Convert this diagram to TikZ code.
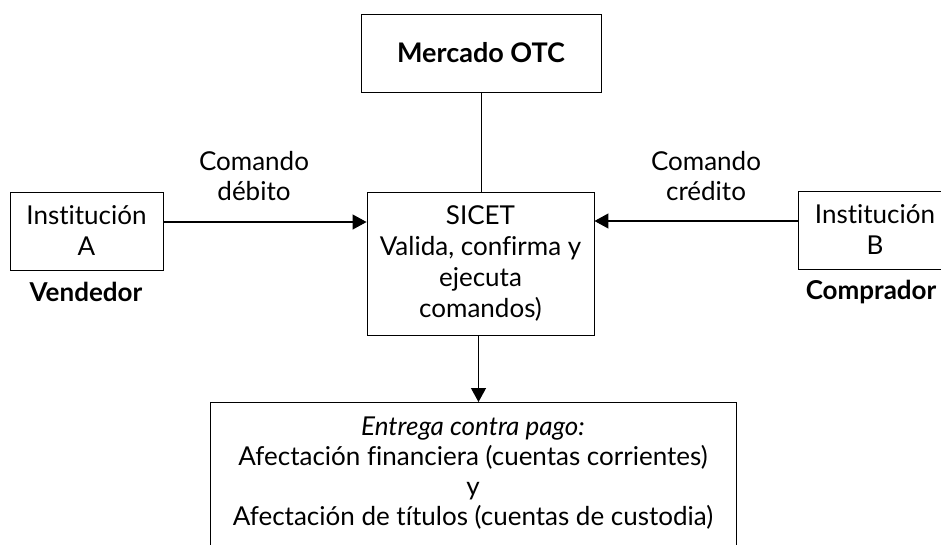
\documentclass[tikz,border=0pt]{standalone}
\usepackage{fontspec}
\setmainfont{Lato}[Ligatures=NoCommon]
\usetikzlibrary{arrows.meta}

\begin{document}
\begin{tikzpicture}[x=1pt, y=-1pt,
    caja/.style={draw, line width=0.9pt, inner sep=0pt, align=center,
      font=\fontsize{26}{31}\selectfont},
    texto/.style={align=center, inner sep=0pt, font=\fontsize{26}{30}\selectfont},
    rol/.style={inner sep=0pt, font=\fontsize{26}{31}\selectfont\bfseries},
    flecha/.style={line width=1.2pt, -{Triangle[length=14pt, width=15pt]}}]
  \useasboundingbox (0,0) rectangle (941,544);

  % Cajas
  \node[caja, minimum width=240, minimum height=78, font=\fontsize{27}{31}\selectfont\bfseries]
    (otc) at (481,53) {Mercado OTC};
  \node[caja, minimum width=227, minimum height=143]
    (sicet) at (480.5,263.5) {SICET\\Valida, confirma y\\ejecuta\\comandos)};
  \node[caja, minimum width=153, minimum height=78]
    (instA) at (86.5,231) {Institución\\A};
  \node[caja, minimum width=153, minimum height=78]
    (instB) at (875,230) {Institución\\B};
  \node[caja, anchor=north, minimum width=526, minimum height=170]
    (pago) at (473,402) {};

  % Textos
  \node[texto] (pagotxt) at (473,473) {\textit{Entrega contra pago:}\\
    Afectación financiera (cuentas corrientes)\\y\\
    Afectación de títulos (cuentas de custodia)};
  \node[texto] (debito) at (254,176) {Comando\\débito};
  \node[texto] (credito) at (706,176) {Comando\\crédito};
  \node[rol] (vendedor) at (86,292) {Vendedor};
  \node[rol] (comprador) at (871,292) {Comprador};

  % Conectores
  \draw[line width=0.9pt] (otc.south) -- (otc.south |- sicet.north);
  \draw[flecha] ([yshift=9pt]instA.east) -- ([yshift=9pt]instA.east -| sicet.west);
  \draw[flecha] ([yshift=9pt]instB.west) -- ([yshift=9pt]instB.west -| sicet.east);
  \draw[flecha] ([xshift=-2pt]sicet.south) -- ([xshift=-2pt]sicet.south |- pago.north);
\end{tikzpicture}
\end{document}
